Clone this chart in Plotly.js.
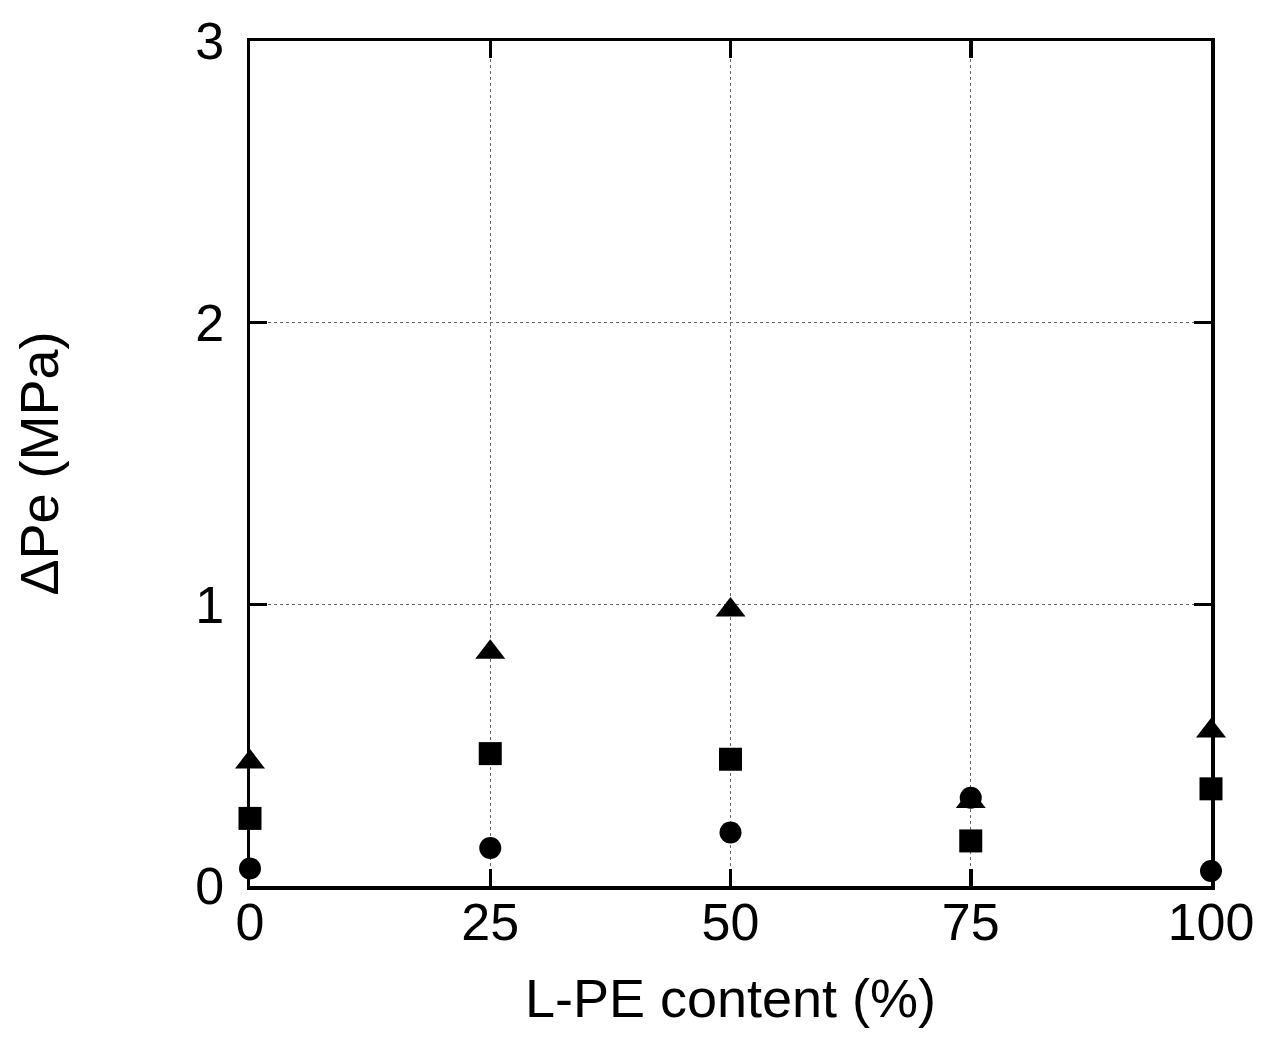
<!DOCTYPE html>
<html>
<head>
<meta charset="utf-8">
<script src="https://cdn.plot.ly/plotly-3.0.1.min.js"></script>
<style>html,body{margin:0;padding:0;background:#fff;}</style>
</head>
<body>
<div id="chart" style="width:1263px;height:1037px;"></div>
<script>
// L-PE content (%)
const content = [0, 25, 50, 75, 100];
// ΔPe (MPa) series
const triangleSeries = [0.44, 0.83, 0.98, 0.30, 0.55];
const squareSeries   = [0.24, 0.47, 0.45, 0.16, 0.345];
const circleSeries   = [0.062, 0.135, 0.19, 0.313, 0.053];
const xTicks = [0, 25, 50, 75, 100];
const yTicks = [0, 1, 2, 3];

const F = 'Arial, "Liberation Sans", sans-serif';

const traces = [
  {x: content, y: triangleSeries, mode: 'markers', type: 'scatter', cliponaxis: false,
   marker: {symbol: 'triangle-up', size: 26, color: '#000'}},
  {x: content, y: squareSeries, mode: 'markers', type: 'scatter', cliponaxis: false,
   marker: {symbol: 'square', size: 23, color: '#000'}},
  {x: content, y: circleSeries, mode: 'markers', type: 'scatter', cliponaxis: false,
   marker: {symbol: 'circle', size: 22, color: '#000'}}
];

const layout = {
  width: 1263, height: 1037,
  margin: {l: 250, r: 52, t: 41, b: 151},
  paper_bgcolor: '#fff', plot_bgcolor: '#fff',
  showlegend: false,
  font: {family: F, color: '#000', size: 52},
  xaxis: {
    range: [0, 100], tickvals: xTicks, ticktext: xTicks.map(String),
    ticks: 'inside', ticklen: 17, tickwidth: 3.5, tickcolor: '#000',
    showline: true, linewidth: 3.5, linecolor: '#000', mirror: 'ticks',
    showgrid: true, gridcolor: '#666', gridwidth: 1, griddash: 'dot',
    zeroline: false, tickfont: {size: 52, family: F}, ticklabelstandoff: -12,
    title: {text: 'L-PE content (%)', font: {size: 54, family: F}, standoff: 30}
  },
  yaxis: {
    range: [0, 3], tickvals: yTicks, ticktext: yTicks.map(String),
    ticks: 'inside', ticklen: 17, tickwidth: 3.5, tickcolor: '#000',
    showline: true, linewidth: 3.5, linecolor: '#000', mirror: 'ticks',
    showgrid: true, gridcolor: '#666', gridwidth: 1, griddash: 'dot',
    zeroline: false, tickfont: {size: 52, family: F}, ticklabelstandoff: 12,
    title: {text: 'ΔPe (MPa)', font: {size: 54, family: F}, standoff: 120}
  }
};

Plotly.newPlot('chart', traces, layout, {displayModeBar: false, staticPlot: true});
</script>
</body>
</html>
